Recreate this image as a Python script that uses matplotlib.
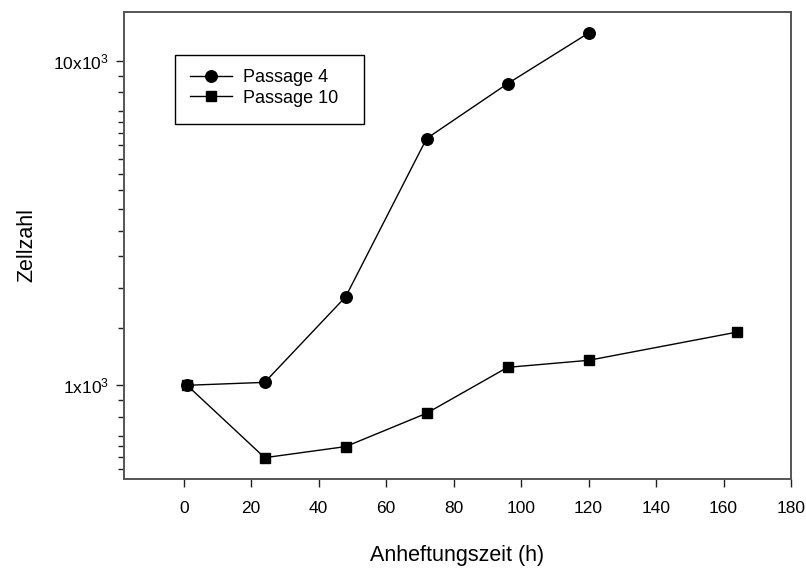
#!/usr/bin/env python3
"""Cell count over attachment time, two passages, log scale."""

import matplotlib
matplotlib.use("Agg")
import matplotlib.pyplot as plt
from matplotlib.patches import Rectangle
from matplotlib.ticker import FixedLocator, NullFormatter

plt.rcParams["font.family"] = ["Liberation Sans", "DejaVu Sans"]
plt.rcParams["mathtext.default"] = "regular"

# attachment time (h) and cell counts
hours_p4 = [1, 24, 48, 72, 96, 120]
cells_p4 = [1000, 1021, 1875, 5770, 8520, 12200]

hours_p10 = [1, 24, 48, 72, 96, 120, 164]
cells_p10 = [1000, 598, 647, 820, 1136, 1194, 1459]

x_ticks = list(range(0, 181, 20))
y_major = [1000, 10000]
y_major_labels = ["1x10$^{3}$", "10x10$^{3}$"]
y_minor = [550, 600, 650, 700, 800, 900,
           1500, 2000, 2500, 3000, 3500, 4000, 4500, 5000, 5500, 6000,
           6500, 7000, 8000, 9000]

fig = plt.figure(figsize=(8.06, 5.70), dpi=100)
ax = fig.add_axes([124 / 806, 1 - 479 / 570, 667 / 806, 467.3 / 570])

ax.plot(hours_p4, cells_p4, color="black", lw=1.0, marker="o", ms=8.3,
        label="Passage 4")
ax.plot(hours_p10, cells_p10, color="black", lw=1.0, marker="s", ms=7.7,
        label="Passage 10")

ax.set_yscale("log")
ax.set_xlim(-17.7, 180)
ax.set_ylim(514, 14200)

ax.set_xticks(x_ticks)
ax.yaxis.set_major_locator(FixedLocator(y_major))
ax.set_yticklabels(y_major_labels)
ax.yaxis.set_minor_locator(FixedLocator(y_minor))
ax.yaxis.set_minor_formatter(NullFormatter())

ax.tick_params(axis="both", which="major", direction="out", length=6,
               width=1.0, labelsize=12.5, color="#222222")
ax.tick_params(axis="y", which="minor", direction="out", length=4,
               width=1.0, color="#222222")
ax.tick_params(axis="x", pad=10)
ax.tick_params(axis="y", pad=5)

for spine in ax.spines.values():
    spine.set_linewidth(1.4)
    spine.set_color("#555555")

ax.set_xlabel("Anheftungszeit (h)", fontsize=15.5, labelpad=21)
ax.set_ylabel("Zellzahl", fontsize=15.5, labelpad=11)

# legend entries without their own frame; the box is drawn separately
leg = ax.legend(loc="upper left", bbox_to_anchor=(0.099, 0.877),
                fontsize=13, frameon=False, handlelength=2.33,
                borderpad=0, labelspacing=0.2, handletextpad=0.6,
                borderaxespad=0)
ax.add_patch(Rectangle((0.0765, 0.7597), 0.2833, 0.1483,
                       transform=ax.transAxes, fill=False,
                       edgecolor="black", lw=1.0, zorder=5))

fig.savefig("out.png", dpi=100)
